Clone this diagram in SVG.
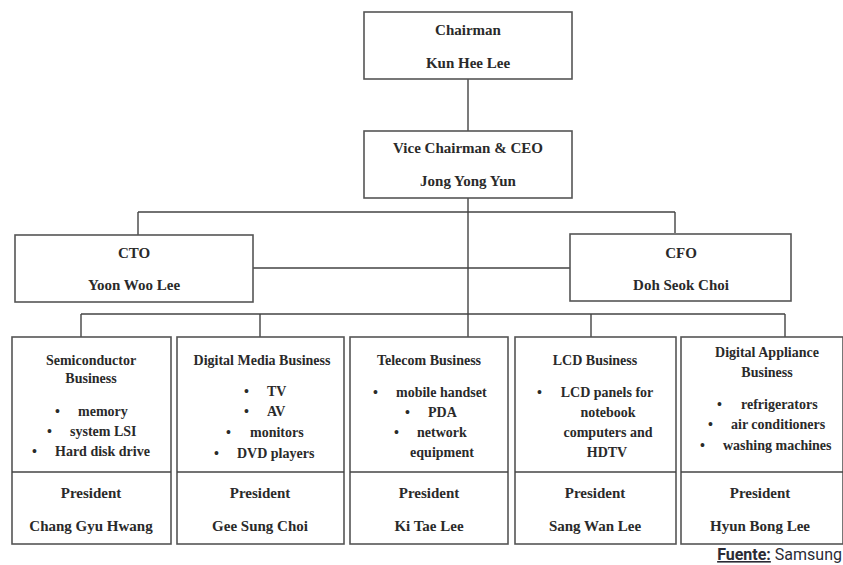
<svg xmlns="http://www.w3.org/2000/svg" width="843" height="565" viewBox="0 0 843 565">
<style>
.box{fill:#fff;stroke:#555;stroke-width:1.6}
.ln{fill:none;stroke:#444;stroke-width:1.4}
text{font-family:"Liberation Serif","Times New Roman",serif;font-weight:bold;fill:#2a2a2a}
.t{font-size:15px;text-anchor:middle}
.s{font-size:14px;text-anchor:middle}
.b{font-size:14px}
.src{font-family:Roboto,"Liberation Sans",sans-serif;font-size:16px;fill:#2b2b35}
</style>
<rect width="843" height="565" fill="#fff"/>
<g id="connectors">
<path class="ln" d="M468 79V131M468 198V337M138 212H675M138 212V235M675 212V233M253 268H570M81 314H785M81 314V337M260 314V337M591 314V337M785 314V337"/>
</g>
<g id="chairman">
<rect class="box" x="364" y="12" width="208" height="67"/>
<text class="t" x="468" y="35">Chairman</text>
<text class="t" x="468" y="68">Kun Hee Lee</text>
</g>
<g id="vice">
<rect class="box" x="364" y="131" width="208" height="67"/>
<text class="t" x="468" y="153">Vice Chairman &amp; CEO</text>
<text class="t" x="468" y="186">Jong Yong Yun</text>
</g>
<g id="cto">
<rect class="box" x="15" y="235" width="238" height="67"/>
<text class="t" x="134" y="258">CTO</text>
<text class="t" x="134" y="290">Yoon Woo Lee</text>
</g>
<g id="cfo">
<rect class="box" x="570" y="234" width="221" height="67"/>
<text class="t" x="681" y="258">CFO</text>
<text class="t" x="681" y="290">Doh Seok Choi</text>
</g>
<g id="semiconductor">
<rect class="box" x="12" y="337" width="159" height="207"/>
<path class="ln" d="M12 472H171"/>
<text class="s" x="91" y="365">Semiconductor</text>
<text class="s" x="91" y="383">Business</text>
<text class="b" x="55" y="416">•</text><text class="b" x="78" y="416">memory</text>
<text class="b" x="47" y="436">•</text><text class="b" x="70" y="436">system LSI</text>
<text class="b" x="32" y="456">•</text><text class="b" x="55" y="456">Hard disk drive</text>
<text class="t" x="91" y="498">President</text>
<text class="t" x="91" y="531">Chang Gyu Hwang</text>
</g>
<g id="digitalmedia">
<rect class="box" x="177" y="337" width="167" height="207"/>
<path class="ln" d="M177 472H344"/>
<text class="s" x="262" y="365">Digital Media Business</text>
<text class="b" x="244" y="396">•</text><text class="b" x="267" y="396">TV</text>
<text class="b" x="244" y="416">•</text><text class="b" x="267" y="416">AV</text>
<text class="b" x="226" y="437">•</text><text class="b" x="250" y="437">monitors</text>
<text class="b" x="214" y="458">•</text><text class="b" x="237" y="458">DVD players</text>
<text class="t" x="260" y="498">President</text>
<text class="t" x="260" y="531">Gee Sung Choi</text>
</g>
<g id="telecom">
<rect class="box" x="350" y="337" width="158" height="207"/>
<path class="ln" d="M350 472H508"/>
<text class="s" x="429" y="365">Telecom Business</text>
<text class="b" x="373" y="397">•</text><text class="b" x="396" y="397">mobile handset</text>
<text class="b" x="405" y="417">•</text><text class="b" x="428" y="417">PDA</text>
<text class="b" x="394" y="437">•</text><text class="b" x="417" y="437">network</text>
<text class="s" x="442" y="457">equipment</text>
<text class="t" x="429" y="498">President</text>
<text class="t" x="429" y="531">Ki Tae Lee</text>
</g>
<g id="lcd">
<rect class="box" x="515" y="337" width="161" height="207"/>
<path class="ln" d="M515 472H676"/>
<text class="s" x="595" y="365">LCD Business</text>
<text class="b" x="537" y="397">•</text><text class="s" x="607" y="397">LCD panels for</text>
<text class="s" x="608" y="417">notebook</text>
<text class="s" x="608" y="437">computers and</text>
<text class="s" x="607" y="457">HDTV</text>
<text class="t" x="595" y="498">President</text>
<text class="t" x="595" y="531">Sang Wan Lee</text>
</g>
<g id="appliance">
<rect class="box" x="681" y="337" width="162" height="207"/>
<path class="ln" d="M681 472H843"/>
<text class="s" x="767" y="357">Digital Appliance</text>
<text class="s" x="767" y="377">Business</text>
<text class="b" x="717" y="409">•</text><text class="b" x="741" y="409">refrigerators</text>
<text class="b" x="708" y="429">•</text><text class="b" x="731" y="429">air conditioners</text>
<text class="b" x="700" y="450">•</text><text class="b" x="723" y="450">washing machines</text>
<text class="t" x="760" y="498">President</text>
<text class="t" x="760" y="531">Hyun Bong Lee</text>
</g>
<text class="src" x="842" y="560" text-anchor="end"><tspan font-weight="bold" text-decoration="underline">Fuente:</tspan> <tspan font-weight="normal">Samsung</tspan></text>
</svg>
